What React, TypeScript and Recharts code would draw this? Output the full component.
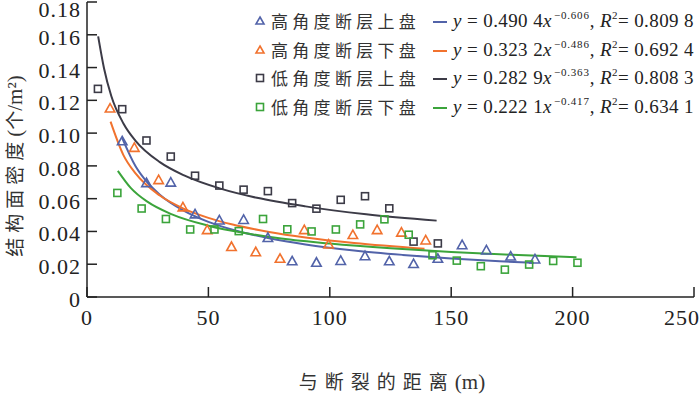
import React from 'react';
import { ComposedChart, Scatter, Line, XAxis, YAxis, Legend } from 'recharts';

// 观测点 (距离 m, 结构面密度 个/m²)
const highUpX = [14.5, 24.5, 34.5, 44.5, 54.5, 64.5, 74.5, 84.5, 94.5, 104.5, 114.5, 124.5, 134.5, 144.5, 154.5, 164.5, 174.5, 184.5];
const highUpY = [0.095, 0.0695, 0.0698, 0.0504, 0.0467, 0.047, 0.036, 0.0218, 0.0209, 0.022, 0.0249, 0.0218, 0.0201, 0.0233, 0.0316, 0.0284, 0.0247, 0.0229];

const highDownX = [9.5, 19.5, 29.5, 39.5, 49.5, 59.5, 69.5, 79.5, 89.5, 99.5, 109.5, 119.5, 129.5, 139.5];
const highDownY = [0.115, 0.091, 0.0713, 0.0547, 0.0408, 0.0305, 0.0273, 0.0233, 0.0408, 0.032, 0.0378, 0.0408, 0.0393, 0.0345];

const lowUpX = [4.5, 14.5, 24.5, 34.5, 44.5, 54.5, 64.5, 74.5, 84.5, 94.5, 104.5, 114.5, 124.5, 134.5, 144.5];
const lowUpY = [0.127, 0.1146, 0.0955, 0.0857, 0.074, 0.068, 0.0655, 0.0646, 0.0573, 0.0539, 0.0593, 0.0615, 0.0541, 0.0338, 0.0327];

const lowDownX = [12.5, 22.5, 32.5, 42.5, 52.5, 62.5, 72.5, 82.5, 92.5, 102.5, 112.5, 122.5, 132.5, 142.3, 152.3, 162.2, 172.1, 182.1, 192, 202];
const lowDownY = [0.0635, 0.054, 0.0476, 0.0412, 0.0412, 0.0402, 0.0476, 0.0413, 0.04, 0.0412, 0.0443, 0.0474, 0.038, 0.0255, 0.0222, 0.0188, 0.0167, 0.0198, 0.022, 0.0209];

// 拟合曲线
const highUpFitX = [14.5, 20, 25, 30, 40, 50, 60, 75, 90, 110, 130, 150, 170, 184];
const highUpFitY = [0.097, 0.0798, 0.0697, 0.0624, 0.0525, 0.0458, 0.041, 0.0359, 0.0321, 0.0284, 0.0257, 0.0235, 0.0218, 0.0208];

const highDownFitX = [9.7, 15, 20, 30, 40, 50, 60, 75, 90, 110, 139];
const highDownFitY = [0.107, 0.0866, 0.0754, 0.0619, 0.0538, 0.0483, 0.0442, 0.0397, 0.0363, 0.0329, 0.0294];

const lowUpFitX = [4.6, 7, 10, 15, 20, 30, 40, 55, 70, 90, 115, 144];
const lowUpFitY = [0.159, 0.1396, 0.1226, 0.1059, 0.0953, 0.0823, 0.0742, 0.0661, 0.0605, 0.0553, 0.0505, 0.0466];

const lowDownFitX = [12.7, 18, 25, 35, 50, 65, 80, 100, 125, 150, 175, 201.6];
const lowDownFitY = [0.077, 0.0666, 0.058, 0.0504, 0.0435, 0.039, 0.0357, 0.0326, 0.0297, 0.0275, 0.0258, 0.0243];

const xTicks = [0, 50, 100, 150, 200, 250];
const yTicks = [0, 0.02, 0.04, 0.06, 0.08, 0.1, 0.12, 0.14, 0.16, 0.18];

const names = ['高角度断层上盘', '高角度断层下盘', '低角度断层上盘', '低角度断层下盘'];
const coefs = ['0.490 4', '0.323 2', '0.282 9', '0.222 1'];
const powers = ['\u22120.606', '\u22120.486', '\u22120.363', '\u22120.417'];
const r2s = ['0.809 8', '0.692 4', '0.808 3', '0.634 1'];

const colors = ['#5263a9', '#f1722e', '#3c3b47', '#3ba43b'];
const markers = ['triangle', 'triangle', 'square', 'square'];

const zip = (xs: number[], ys: number[]) => xs.map((x, i) => ({ x, y: ys[i] }));

const points = [zip(highUpX, highUpY), zip(highDownX, highDownY), zip(lowUpX, lowUpY), zip(lowDownX, lowDownY)];
const fits = [
  zip(highUpFitX, highUpFitY),
  zip(highDownFitX, highDownFitY),
  zip(lowUpFitX, lowUpFitY),
  zip(lowDownFitX, lowDownFitY),
];

const axisColor = '#222';
const serif = '"Liberation Serif", "Times New Roman", serif';
const cjk = '"Noto Sans CJK SC", sans-serif';

const markerShape = (kind: string, color: string, s: number) => (p: any) => {
  const { cx, cy } = p;
  if (cx == null || cy == null) return <g />;
  if (kind === 'triangle') {
    const h = s * 0.95;
    return (
      <polygon
        points={`${cx},${cy - s} ${cx + h},${cy + s * 0.7} ${cx - h},${cy + s * 0.7}`}
        fill="none"
        stroke={color}
        strokeWidth={1.6}
      />
    );
  }
  return <rect x={cx - s * 0.7} y={cy - s * 0.7} width={s * 1.4} height={s * 1.4} fill="none" stroke={color} strokeWidth={1.6} />;
};

const XTick = (props: any) => {
  const { x, y, payload } = props;
  const last = payload.value === 250;
  return (
    <g>
      <line x1={x} x2={x} y1={y} y2={y - 10} stroke={axisColor} strokeWidth={1.5} />
      <text
        x={last ? x + 6 : x}
        y={y + 28}
        textAnchor={last ? 'end' : 'middle'}
        fontFamily={serif}
        fontSize={22}
        letterSpacing={1}
        fill="#222"
      >
        {payload.value}
      </text>
    </g>
  );
};

const YTick = (props: any) => {
  const { x, y, payload } = props;
  const v = payload.value;
  const label = v === 0 ? '0' : v.toFixed(2);
  return (
    <g>
      <line x1={x} x2={x + 10} y1={y} y2={y} stroke={axisColor} strokeWidth={1.5} />
      <text x={x - 6} y={v === 0.18 ? y + 15 : y + 10} textAnchor="end" fontFamily={serif} fontSize={22} letterSpacing={1} fill="#222">
        {label}
      </text>
    </g>
  );
};

const LegendBox = () => (
  <div style={{ position: 'relative', width: 450, height: 120 }}>
    {names.map((n, i) => (
      <div key={n} style={{ position: 'absolute', left: 0, top: i * 28.6, height: 28, width: 450 }}>
        <svg width={14} height={14} style={{ position: 'absolute', left: 3, top: 7 }}>
          {markers[i] === 'triangle' ? (
            <polygon points="7,3 11,10 3,10" fill="none" stroke={colors[i]} strokeWidth={1.6} />
          ) : (
            <rect x={3.5} y={3.5} width={7} height={7} fill="none" stroke={colors[i]} strokeWidth={1.6} />
          )}
        </svg>
        <span
          style={{
            position: 'absolute',
            left: 21,
            top: 2,
            fontFamily: cjk,
            fontSize: 17,
            letterSpacing: 4.3,
            lineHeight: '24px',
            color: '#333',
            whiteSpace: 'nowrap',
          }}
        >
          {n}
        </span>
        <div style={{ position: 'absolute', left: 183, top: 14, width: 14, height: 2, background: colors[i] }} />
        <span
          style={{
            position: 'absolute',
            left: 203,
            top: 1,
            fontFamily: serif,
            fontSize: 19,
            lineHeight: '26px',
            color: '#222',
            whiteSpace: 'nowrap',
            letterSpacing: 0.4,
          }}
        >
          <i>y</i>
          {' = '}
          {coefs[i]}
          <i>x</i>
          <span style={{ fontSize: 11, position: 'relative', top: -8, marginLeft: 2, letterSpacing: 0.8 }}>{powers[i]}</span>
          {', '}
          <i>R</i>
          <span style={{ fontSize: 11, position: 'relative', top: -8 }}>2</span>
          {'= '}
          {r2s[i]}
        </span>
      </div>
    ))}
  </div>
);

const XTitle = () => (
  <text x={392} y={389} textAnchor="middle" fill="#333">
    <tspan fontFamily={cjk} fontSize={19} letterSpacing={7}>与断裂的距离</tspan>
    <tspan fontFamily={serif} fontSize={21}>(m)</tspan>
  </text>
);

const YTitle = () => (
  <text transform="translate(22,166) rotate(-90)" textAnchor="middle" fill="#333">
    <tspan fontFamily={cjk} fontSize={19} letterSpacing={5}>结构面密度</tspan>
    <tspan fontFamily={serif} fontSize={21}>(</tspan>
    <tspan fontFamily={cjk} fontSize={19}>个</tspan>
    <tspan fontFamily={serif} fontSize={21}>/m²)</tspan>
  </text>
);

export default function App() {
  return (
    <div style={{ position: 'absolute', left: 0, top: 0, width: 700, height: 395, background: '#fff' }}>
      <ComposedChart width={700} height={395} margin={{ top: 2, right: 6, bottom: 68, left: 0 }}>
        <XAxis
          type="number"
          dataKey="x"
          domain={[0, 250]}
          ticks={xTicks}
          interval={0}
          tickSize={0}
          tickMargin={0}
          tickLine={false}
          tick={<XTick />}
          axisLine={{ stroke: axisColor, strokeWidth: 1.5 }}
          label={() => <XTitle />}
        />
        <YAxis
          type="number"
          dataKey="y"
          width={87}
          domain={[0, 0.18]}
          ticks={yTicks}
          interval={0}
          tickSize={0}
          tickMargin={0}
          tickLine={false}
          tick={<YTick />}
          axisLine={{ stroke: axisColor, strokeWidth: 1.5 }}
          label={() => <YTitle />}
        />
        {points.map((d, i) => (
          <Scatter
            key={'s' + i}
            name={names[i]}
            data={d}
            dataKey="y"
            isAnimationActive={false}
            shape={markerShape(markers[i], colors[i], 5)}
          />
        ))}
        {fits.map((d, i) => (
          <Line
            key={'l' + i}
            data={d}
            dataKey="y"
            type="monotone"
            stroke={colors[i]}
            strokeWidth={2}
            dot={false}
            activeDot={false}
            isAnimationActive={false}
            legendType="none"
          />
        ))}
        <Legend
          layout="vertical"
          align="center"
          verticalAlign="middle"
          content={<LegendBox />}
          wrapperStyle={{ top: 7, left: 250, width: 450, height: 120 }}
        />
      </ComposedChart>
    </div>
  );
}
